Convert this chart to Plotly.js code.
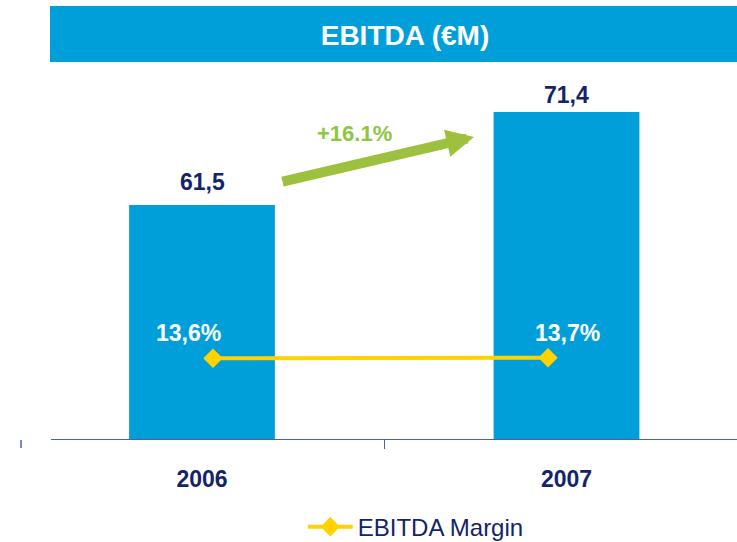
<!DOCTYPE html>
<html>
<head>
<meta charset="utf-8">
<script src="https://cdn.plot.ly/plotly-3.0.1.min.js"></script>
<style>html,body{margin:0;padding:0;background:#fff;}#chart{width:737px;height:542px;}</style>
</head>
<body>
<div id="chart"></div>
<script>
// ---- data ----
const years = ['2006', '2007'];
const ebitda = [61.5, 71.4];          // EBITDA, €M
const margin = [13.6, 13.7];          // EBITDA margin, %
const growthLabel = '+16.1%';
const titleText = 'EBITDA (€M)';
const seriesName = 'EBITDA Margin';

// ---- styles ----
const FONT = 'Arial, "Liberation Sans", sans-serif';
const BLUE = '#009FDA';
const NAVY = '#13246B';
const YELLOW = '#FFD200';
const GREEN = '#9DC13F';
const GREEN_TXT = '#8DC63F';
const AXIS = '#4A5FB0';

const fmt = v => v.toFixed(1).replace('.', ',');

const bars = {
  type: 'bar', x: years, y: ebitda, xaxis: 'x', yaxis: 'y',
  width: 0.4, marker: {color: BLUE}, showlegend: false, hoverinfo: 'skip'
};
const line = {
  type: 'scatter', mode: 'lines+markers', name: seriesName,
  x: years, y: margin, xaxis: 'x2', yaxis: 'y2',
  line: {color: YELLOW, width: 4},
  marker: {symbol: 'diamond', size: 15, color: YELLOW},
  hoverinfo: 'skip'
};

const valueShift = [23, 17];
const pctShift = [-25, 19];
const annotations = [];
// category axes: position by category index
ebitda.forEach((v, i) => annotations.push({
  xref: 'x', yref: 'y', x: i, y: v, text: '<b>' + fmt(v) + '</b>',
  showarrow: false, yanchor: 'middle', yshift: valueShift[i],
  font: {family: FONT, size: 23, color: NAVY}
}));
margin.forEach((v, i) => annotations.push({
  xref: 'x2', yref: 'y2', x: i, y: v, text: '<b>' + fmt(v) + '%</b>',
  showarrow: false, yanchor: 'middle', xshift: pctShift[i], yshift: 25,
  font: {family: FONT, size: 23, color: '#ffffff'}
}));
// growth arrow
annotations.push({
  xref: 'paper', yref: 'paper', x: 0.6166, y: 0.8184, ax: -193, ay: 45,
  axref: 'pixel', ayref: 'pixel', text: '', showarrow: true,
  arrowhead: 2, arrowsize: 0.55, arrowwidth: 10, arrowcolor: GREEN, standoff: 0
});
annotations.push({
  xref: 'paper', yref: 'paper', x: 0.4417, y: 0.829, text: '<b>' + growthLabel + '</b>',
  showarrow: false, xanchor: 'center', yanchor: 'middle',
  font: {family: FONT, size: 22, color: GREEN_TXT}
});

const layout = {
  width: 737, height: 542,
  margin: {l: 51, r: 0, t: 70, b: 103, autoexpand: false},
  paper_bgcolor: '#ffffff', plot_bgcolor: '#ffffff',
  separators: ',.',
  title: {
    text: '<b>' + titleText + '</b>', x: 0.5495, xanchor: 'center',
    y: 0.935, yanchor: 'middle', xref: 'container', yref: 'container',
    font: {family: FONT, size: 28, color: '#ffffff'}
  },
  xaxis: {
    type: 'category', range: [-0.4143, 1.4678],
    showline: true, linecolor: AXIS, linewidth: 1,
    ticks: 'outside', tickson: 'boundaries', ticklen: 9, tickcolor: AXIS, tickwidth: 1,
    showgrid: false, zeroline: false, ticklabelstandoff: 19,
    tickfont: {family: FONT, size: 23, color: NAVY, weight: 'bold'}, fixedrange: true
  },
  yaxis: {range: [36.59, 75.87], visible: false, fixedrange: true},
  xaxis2: {type: 'category', overlaying: 'x', range: [-0.4836, 1.5642], visible: false},
  yaxis2: {overlaying: 'y', range: [0, 62.2], visible: false},
  showlegend: true,
  legend: {
    orientation: 'h', x: 0.367, xanchor: 'left', y: -0.178, yanchor: 'top',
    font: {family: FONT, size: 24, color: NAVY}, itemwidth: 45
  },
  shapes: [
    {type: 'rect', xref: 'paper', yref: 'paper', x0: -0.0015, x1: 1, y0: 1.0217, y1: 1.1734,
     fillcolor: BLUE, line: {width: 0}, layer: 'below'},
    {type: 'line', xref: 'paper', yref: 'paper', x0: -0.0437, x1: -0.0437, y0: -0.003, y1: -0.0244,
     line: {color: AXIS, width: 1.5}}
  ],
  annotations: annotations
};

Plotly.newPlot('chart', [bars, line], layout, {displayModeBar: false, staticPlot: true});
</script>
</body>
</html>
